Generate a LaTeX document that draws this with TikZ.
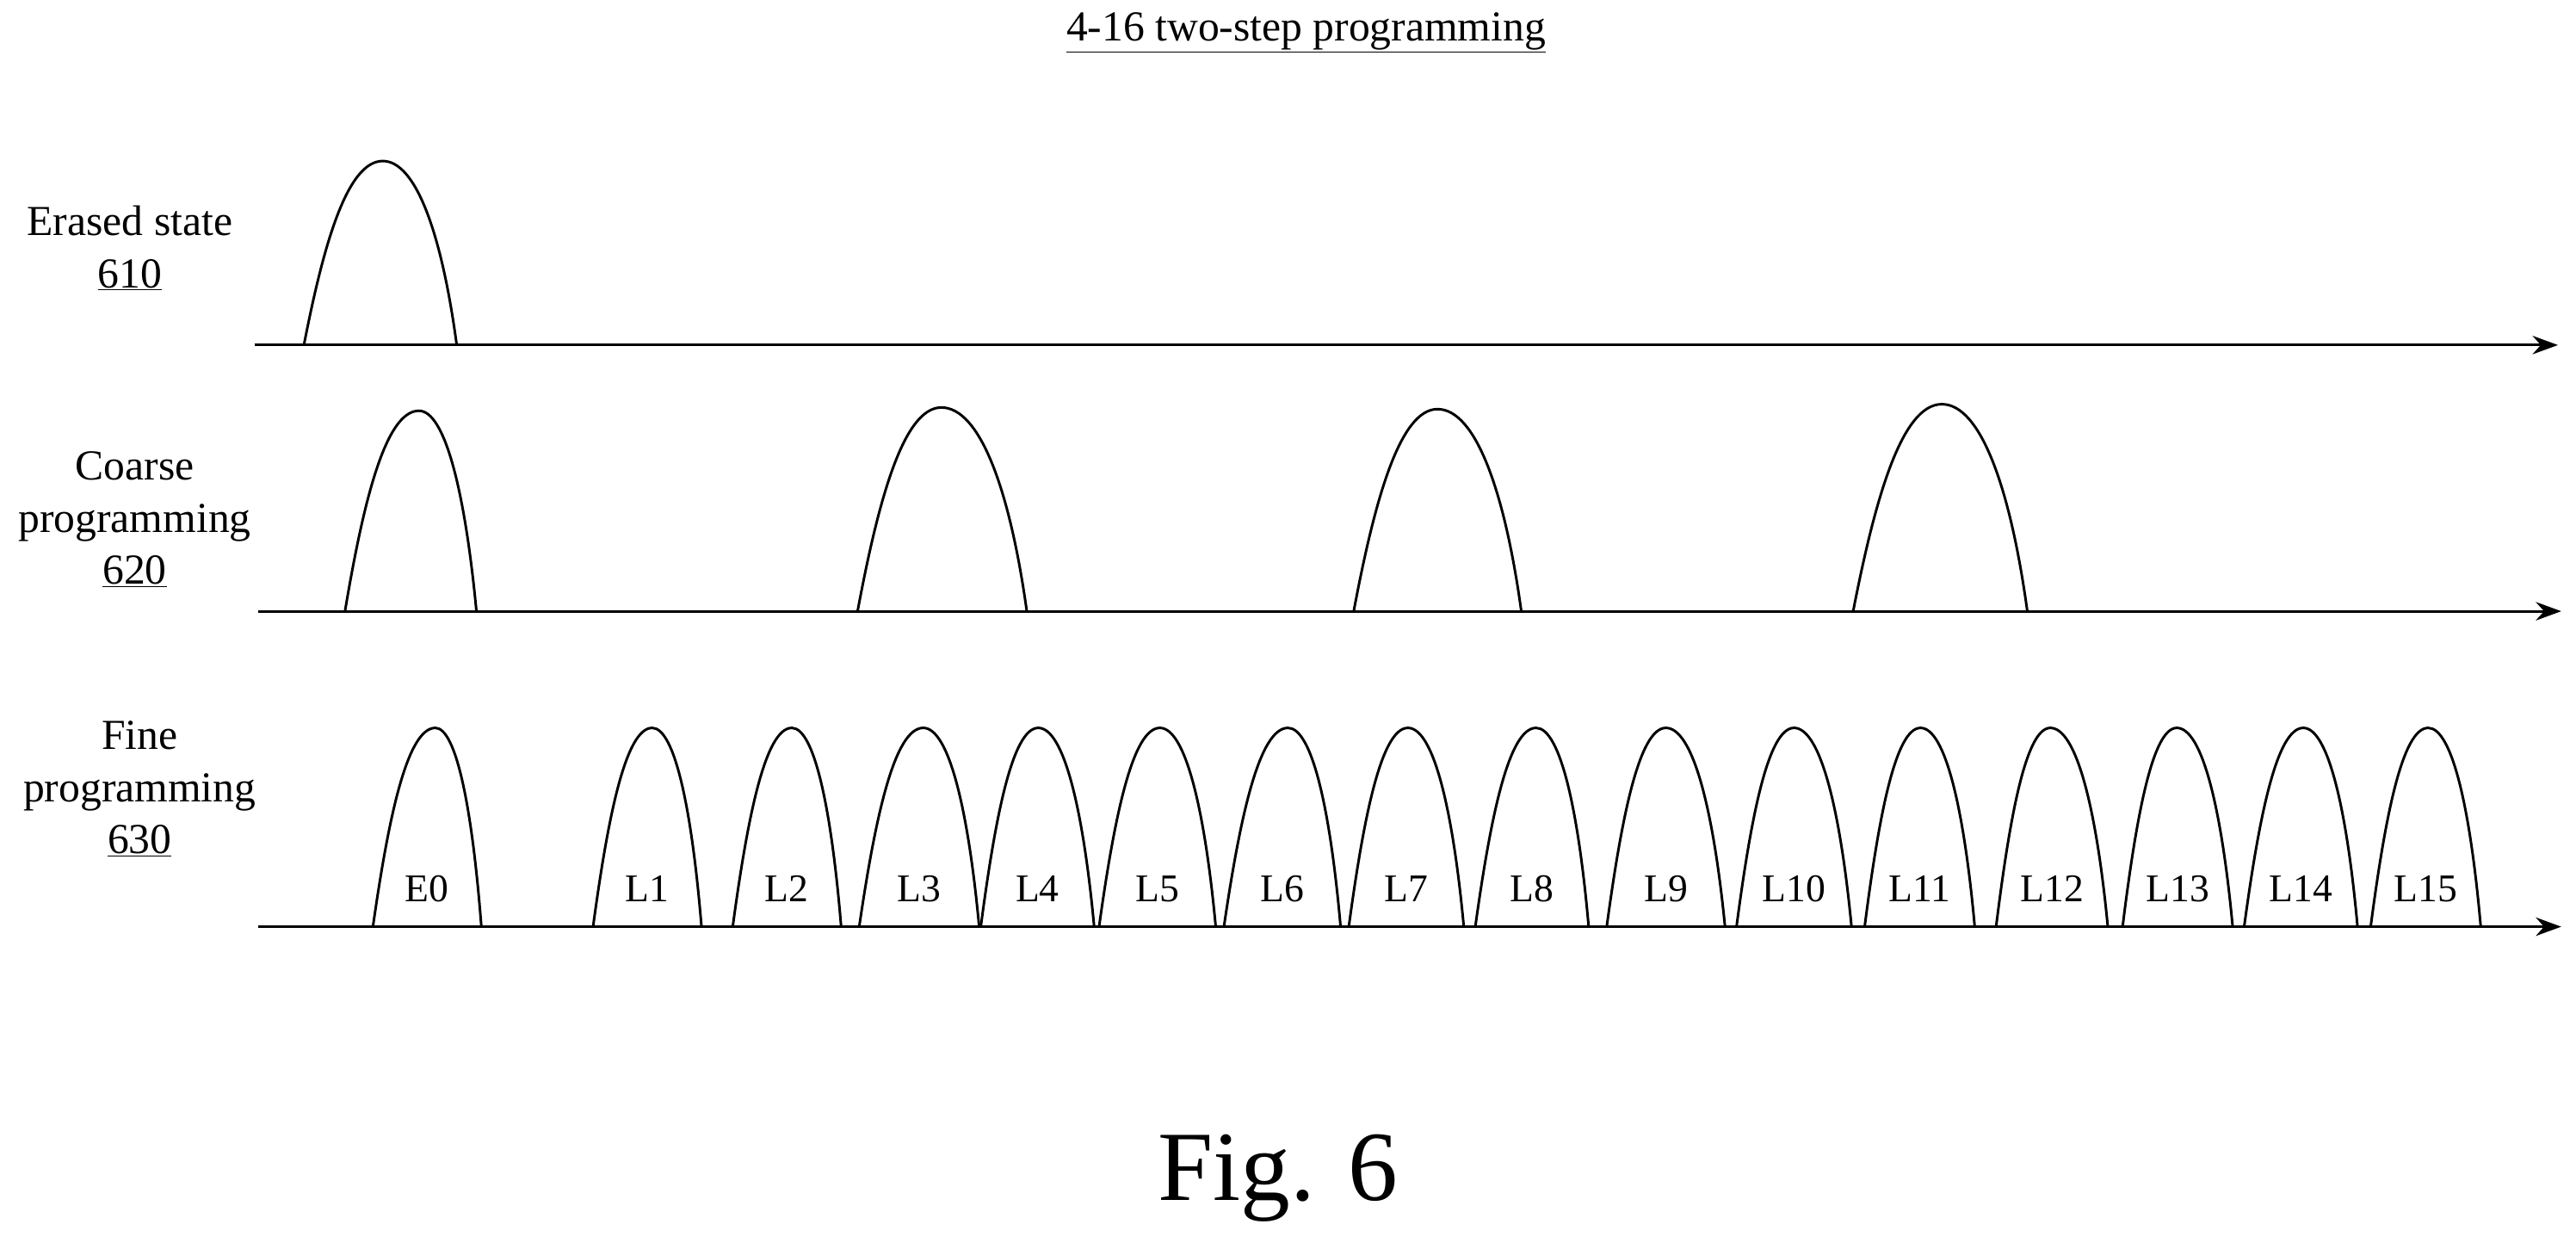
\documentclass[tikz,border=0pt]{standalone}
\usepackage{fontspec}
\setmainfont{Liberation Serif}
\usetikzlibrary{arrows.meta}
\begin{document}
\begin{tikzpicture}[x=0.05cm,y=-0.05cm,
  axis/.style={line width=2.2pt,-{Stealth[length=22pt,width=16pt]}},
  bump/.style={line width=2.2pt},
  lbl/.style={font=\fontsize{37}{45}\selectfont,align=center},
  slbl/.style={font=\fontsize{34}{40}\selectfont}]
\useasboundingbox (0,0) rectangle (1568,760);
\newcommand{\bmp}[5]{\draw[bump] (#1,#5) .. controls ({#1+0.25*(#3-#1)},{#5-0.55*(#5-#4)}) and ({#1+0.55*(#3-#1)},{#4}) .. (#3,#4) .. controls ({#3+0.45*(#2-#3)},{#4}) and ({#3+0.8*(#2-#3)},{#5-0.6*(#5-#4)}) .. (#2,#5);}
\node[lbl] (title) at (795,20) {\underline{4-16 two-step programming}};
\node[lbl] (t1) at (79,151) {Erased state\\\underline{610}};
\node[lbl] (t2) at (82,316) {Coarse\\programming\\\underline{620}};
\node[lbl] (t3) at (85,480) {Fine\\programming\\\underline{630}};
\node[font=\fontsize{86}{100}\selectfont] (fig) at (778,717) {Fig. 6};
\coordinate (a1) at (155,210); \coordinate (b1) at (1557,210);
\coordinate (a2) at (157,372); \coordinate (b2) at (1559,372);
\coordinate (a3) at (157,564); \coordinate (b3) at (1559,564);
\draw[axis] (a1) -- (b1);
\draw[axis] (a2) -- (b2);
\draw[axis] (a3) -- (b3);
\bmp{185}{278}{233}{98}{210}
\bmp{210}{290}{255}{250}{372}
\bmp{522}{625}{573}{248}{372}
\bmp{824}{926}{875}{249}{372}
\bmp{1128}{1234}{1182}{246}{372}
\foreach \l/\r/\p/\t in {227/293/265/E0,361/427/397/L1,446/512/482/L2,523/596/562/L3,597/666/632/L4,669/740/706/L5,745/816/784/L6,821/891/857/L7,898/967/935/L8,978/1050/1014/L9,1057/1127/1092/L10,1135/1202/1169/L11,1215/1283/1248/L12,1292/1359/1325/L13,1366/1435/1402/L14,1443/1510/1478/L15}{
  \bmp{\l}{\r}{\p}{443}{564}
  \node[slbl] (n\t) at ({(\l+\r)/2},541) {\t};
}
\end{tikzpicture}
\end{document}
